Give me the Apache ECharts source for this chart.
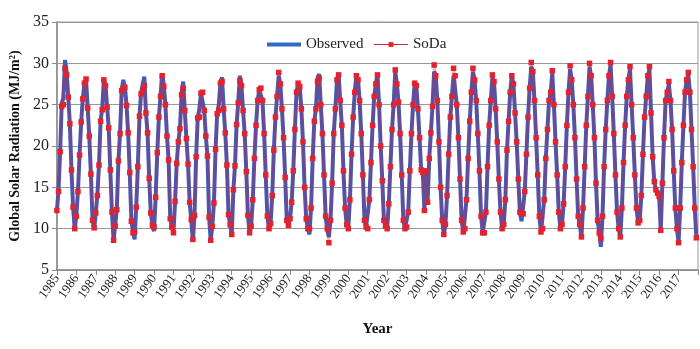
<!DOCTYPE html>
<html><head><meta charset="utf-8">
<script src="https://cdn.jsdelivr.net/npm/echarts@6/dist/echarts.min.js"></script>
<style>html,body{margin:0;padding:0;background:#fff}#c{width:700px;height:349px}</style>
</head><body><div id="c"></div>
<script>
var startYear = 1985;
var endYear = 2017;
var yTicks = [5, 10, 15, 20, 25, 30, 35];
// monthly values Jan..Dec, one row per year
var observed = [
12.2,14.6,19.3,25.2,25.8,30.4,29.0,26.0,22.7,17.1,12.6,9.9,
11.5,14.5,18.9,22.9,25.7,27.6,28.1,24.6,21.2,16.6,11.1,9.9,
11.9,14.1,17.7,23.1,24.5,28.1,27.4,24.8,22.2,17.1,12.0,8.6,
10.4,12.3,18.2,21.5,26.7,28.0,27.2,25.0,21.6,16.8,11.0,9.6,
8.7,12.6,17.5,23.6,26.4,27.5,28.4,24.0,21.6,16.1,11.9,10.4,
9.7,13.8,19.2,23.5,26.0,28.8,27.5,25.0,21.2,18.3,11.3,10.2,
9.5,13.3,17.9,20.5,22.1,26.2,27.8,24.3,20.9,17.8,13.2,11.0,
8.5,11.6,18.7,23.4,24.5,26.4,26.6,24.3,21.2,18.8,11.4,8.6,
10.3,13.1,19.6,23.9,25.0,27.6,28.3,24.5,21.6,17.7,11.7,10.5,
9.2,14.7,17.6,22.6,25.2,28.5,27.3,24.3,21.5,16.9,11.6,9.4,
10.3,13.5,18.5,22.5,25.5,26.8,26.9,25.5,21.5,16.5,11.5,9.9,
10.6,14.0,19.5,23.5,26.0,28.5,27.5,24.5,21.0,16.2,11.0,10.4,
11.2,13.2,17.0,22.0,26.5,27.6,27.2,24.5,20.5,15.0,11.2,10.0,
9.3,12.5,18.5,23.0,24.5,28.2,28.7,25.0,21.5,16.5,11.5,9.8,
9.0,11.0,15.5,21.5,24.5,28.0,28.7,25.5,22.5,17.0,12.5,10.5,
10.0,13.5,19.0,23.5,26.5,28.7,28.0,25.5,21.5,16.5,11.0,10.2,
10.0,13.5,18.0,22.5,26.0,27.5,28.7,25.0,20.0,15.8,11.0,10.3,
10.0,13.0,17.5,22.0,25.0,29.0,27.5,25.3,21.5,16.5,11.0,10.0,
10.2,12.0,17.0,21.5,25.0,27.6,27.3,24.5,21.0,17.1,16.8,12.2,
17.0,13.2,18.5,21.6,24.8,29.0,28.5,25.5,20.5,15.0,11.0,9.3,
10.5,14.0,19.0,23.5,26.0,28.5,28.5,25.0,21.0,16.0,11.0,9.6,
9.5,13.5,18.5,23.0,26.5,29.0,28.0,25.5,21.5,17.0,11.5,9.5,
9.3,12.0,17.5,22.5,25.5,28.3,27.8,24.5,20.5,16.0,12.0,10.0,
10.5,13.5,19.5,23.0,26.5,28.5,27.5,24.0,20.5,16.0,12.0,10.9,
11.0,14.5,19.0,23.5,27.0,29.6,29.0,25.5,21.0,16.5,11.5,9.6,
9.8,13.5,18.5,22.0,25.5,26.5,28.8,25.0,20.5,16.5,12.0,10.0,
10.5,13.0,17.5,22.5,26.5,29.3,28.0,25.0,21.0,16.0,11.5,10.5,
9.0,12.5,17.5,22.5,26.0,29.6,28.5,25.0,21.0,15.5,11.0,9.5,
7.8,11.5,17.5,22.0,25.5,28.5,29.8,26.0,21.5,16.5,12.0,10.0,
9.0,12.5,18.0,22.5,26.0,28.0,29.3,25.0,21.0,16.5,12.5,10.7,
11.0,14.0,19.0,23.5,26.0,28.5,29.3,24.0,18.7,15.7,14.7,14.3,
13.9,9.8,15.5,21.0,25.5,26.5,27.5,25.5,22.0,17.0,12.5,10.0,
8.3,12.5,18.0,22.5,26.5,28.0,28.7,26.5,22.0,17.5,12.5,8.9
];
var soda = [
12.2,14.5,19.3,24.8,25.0,29.4,28.6,25.9,22.7,17.1,12.6,10.0,
11.5,14.5,18.9,22.9,25.7,27.6,28.1,24.6,21.2,16.6,11.0,10.1,
11.9,14.0,17.7,23.0,24.4,28.0,27.3,24.7,22.2,17.1,12.0,8.6,
10.3,12.3,18.2,21.5,26.7,27.0,27.1,24.9,21.6,16.8,10.9,9.5,
9.6,12.6,17.5,23.6,26.3,26.6,27.3,24.0,21.6,16.1,11.9,10.4,
10.2,13.8,19.2,23.5,26.0,28.5,27.2,25.0,21.2,18.3,11.2,10.2,
9.5,13.3,17.9,20.5,22.1,26.2,27.0,24.3,20.9,17.8,13.2,11.1,
8.7,11.6,18.7,23.4,23.5,26.4,26.5,24.3,21.2,18.8,11.4,8.6,
10.3,13.1,19.6,23.9,24.3,27.6,27.8,24.5,21.6,17.7,11.7,10.5,
9.3,14.7,17.6,22.6,25.2,27.9,27.3,24.3,21.5,16.9,11.6,9.5,
10.3,13.5,18.5,22.5,25.5,26.8,27.0,25.5,21.5,16.5,11.5,10.0,
10.6,14.0,19.5,23.5,26.0,28.9,27.5,24.5,21.0,16.2,11.0,10.4,
11.2,13.2,17.0,22.0,26.5,27.6,27.2,24.5,20.5,15.0,11.2,10.0,
10.0,12.5,18.5,23.0,24.5,27.8,28.2,25.0,21.5,16.5,11.5,10.0,
8.3,11.0,15.5,21.5,24.5,28.0,28.6,25.5,22.5,17.0,12.5,10.5,
10.0,13.5,19.0,23.5,26.5,28.5,28.0,25.5,21.5,16.5,11.0,10.2,
10.0,13.5,18.0,22.5,26.0,27.5,28.6,25.0,20.0,15.8,11.0,10.3,
10.0,13.0,17.5,22.0,25.0,29.2,27.5,25.3,21.5,16.5,11.0,10.0,
10.2,12.0,17.0,21.5,25.0,27.6,27.3,24.5,21.0,17.1,16.8,12.2,
17.0,13.2,18.5,21.6,24.8,29.8,28.5,25.5,20.5,15.0,11.0,9.3,
10.5,14.0,19.0,23.5,26.0,29.4,28.5,25.0,21.0,16.0,11.0,9.6,
10.0,13.5,18.5,23.0,26.5,29.4,28.0,25.5,21.5,17.0,11.5,9.5,
9.5,12.0,17.5,22.5,25.5,28.6,27.8,24.5,20.5,16.0,12.0,10.0,
10.5,13.5,19.5,23.0,26.5,28.5,27.5,24.0,20.5,16.0,12.0,11.8,
11.8,14.5,19.0,23.5,27.0,30.1,29.0,25.5,21.0,16.5,11.5,9.6,
10.0,13.5,18.5,22.0,25.5,26.5,29.1,25.0,20.5,16.5,12.0,10.0,
10.5,13.0,17.5,22.5,26.5,29.7,28.0,25.0,21.0,16.0,11.5,10.5,
9.0,12.5,17.5,22.5,26.0,30.0,28.5,25.0,21.0,15.5,11.0,9.5,
8.8,11.5,17.5,22.0,25.5,28.5,30.1,26.0,21.5,16.5,12.0,10.0,
9.0,12.5,18.0,22.5,26.0,28.0,29.6,25.0,21.0,16.5,12.5,10.7,
11.0,14.0,19.0,23.5,26.0,28.5,29.6,24.0,18.7,15.7,14.7,14.3,
13.9,9.8,15.5,21.0,25.5,26.5,27.8,25.5,22.0,17.0,12.5,10.0,
8.3,12.5,18.0,22.5,26.5,28.0,28.9,26.5,22.0,17.5,12.5,8.9
];

function toPoints(vals) {
  var out = [];
  for (var i = 0; i < vals.length; i++) {
    out.push([startYear + i / 12, vals[i]]);
  }
  return out;
}
var serif = 'Liberation Serif';
var chart = echarts.init(document.getElementById('c'), null, {renderer: 'canvas'});
chart.setOption({
  animation: false,
  grid: {left: 52, right: 2, top: 22, bottom: 79, show: true, borderColor: '#9a9a9a', borderWidth: 1},
  legend: {
    top: 32, left: 260,
    itemWidth: 34, itemHeight: 6, itemGap: 10,
    textStyle: {fontFamily: serif, fontSize: 15, color: '#222'},
    data: [
      {name: 'Observed', itemStyle: {opacity: 0}, lineStyle: {color: '#2f6bc4', width: 4, opacity: 1}},
      {name: 'SoDa', lineStyle: {color: '#d8202e', width: 1, opacity: 1}}
    ]
  },
  xAxis: {
    type: 'value', min: startYear, max: endYear + 1, interval: 1,
    name: 'Year', nameLocation: 'middle', nameGap: 52,
    nameTextStyle: {fontFamily: serif, fontWeight: 'bold', fontSize: 15, color: '#111'},
    axisLine: {show: true, lineStyle: {color: '#8a8a8a', width: 1.5}},
    axisTick: {show: true, length: 5, lineStyle: {color: '#8a8a8a'}},
    splitLine: {show: false},
    axisLabel: {
      rotate: 55, fontFamily: serif, fontSize: 13, color: '#222', margin: 6,
      formatter: function (v) { return v <= endYear ? String(v) : ''; }
    }
  },
  yAxis: {
    type: 'value', min: yTicks[0], max: yTicks[yTicks.length - 1], interval: 5,
    name: 'Global Solar Radiation (MJ/m²)', nameLocation: 'middle', nameGap: 34,
    nameTextStyle: {fontFamily: serif, fontWeight: 'bold', fontSize: 14, color: '#111'},
    axisLine: {show: true, lineStyle: {color: '#8a8a8a', width: 1.5}},
    axisTick: {show: true, length: 5, lineStyle: {color: '#8a8a8a'}},
    splitLine: {show: true, lineStyle: {color: '#9a9a9a', width: 1}},
    axisLabel: {fontFamily: serif, fontSize: 16, color: '#222', margin: 8}
  },
  series: [
    {
      name: 'Observed', type: 'line', data: toPoints(observed),
      showSymbol: false, symbol: 'none',
      lineStyle: {color: '#3a5fc0', width: 4},
      itemStyle: {color: '#2f6bc4'}
    },
    {
      name: 'SoDa', type: 'line', data: toPoints(soda),
      symbol: 'rect', symbolSize: 5.5, showSymbol: true,
      lineStyle: {color: '#d8202e', width: 2.5, opacity: 0.35},
      itemStyle: {color: '#e2222e'}
    }
  ]
});
</script></body></html>
